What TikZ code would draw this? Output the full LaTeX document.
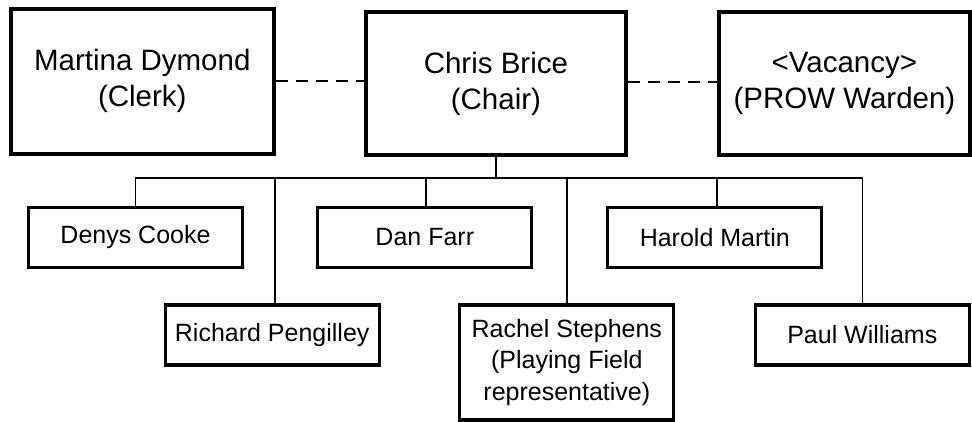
\documentclass[tikz,border=0pt]{standalone}
\usepackage{fontspec}
\setmainfont{Liberation Sans}
\begin{document}
\begin{tikzpicture}[x=1pt,y=-1pt,
  topbox/.style={draw,line width=4pt,inner sep=0pt,align=center,font=\fontsize{29.5}{36}\selectfont},
  memberbox/.style={draw,line width=3.3pt,inner sep=0pt,align=center,minimum width=214pt,minimum height=60pt,font=\fontsize{25}{31.5}\selectfont},
  link/.style={line width=1.6pt},
  deputy/.style={line width=2pt,dash pattern=on 12pt off 8pt}]
\useasboundingbox (0,0) rectangle (972,422);

\node [topbox,minimum width=262.7pt,minimum height=145pt] (clerk) at (142.3,81.2) {Martina Dymond\\(Clerk)};
\node [topbox,minimum width=260.8pt,minimum height=143.6pt] (chair) at (495.9,83.5) {Chris Brice\\(Chair)};
\node [topbox,minimum width=250.2pt,minimum height=143.3pt] (warden) at (844.4,83.3) {<Vacancy>\\(PROW Warden)};

\node [memberbox] (cooke) at (135.5,237.5) {Denys Cooke};
\node [memberbox] (farr) at (424.8,237.5) {Dan Farr};
\node [memberbox] (martin) at (714.8,237.5) {Harold Martin};
\node [memberbox] (pengilley) at (272.2,335) {Richard Pengilley};
\node [memberbox,minimum height=115pt] (stephens) at (566.8,362.5) {Rachel Stephens\\(Playing Field\\representative)};
\node [memberbox] (williams) at (862.3,335) {Paul Williams};

\draw [deputy] (clerk.east) -- (clerk.east -| chair.west);
\draw [deputy] (chair.east |- 0,82) -- (warden.west |- 0,82);

\coordinate (bus) at (495.9,178);
\draw [link] (chair.south) -- (bus);
\draw [link] (cooke.north) |- (bus);
\draw [link] (williams.north) |- (bus);
\draw [link] ([xshift=2.8pt]pengilley.north) -- ([xshift=2.8pt]pengilley.north |- bus);
\draw [link] ([xshift=1.2pt]farr.north) -- ([xshift=1.2pt]farr.north |- bus);
\draw [link] (stephens.north) -- (stephens.north |- bus);
\draw [link] ([xshift=2.2pt]martin.north) -- ([xshift=2.2pt]martin.north |- bus);
\end{tikzpicture}
\end{document}
